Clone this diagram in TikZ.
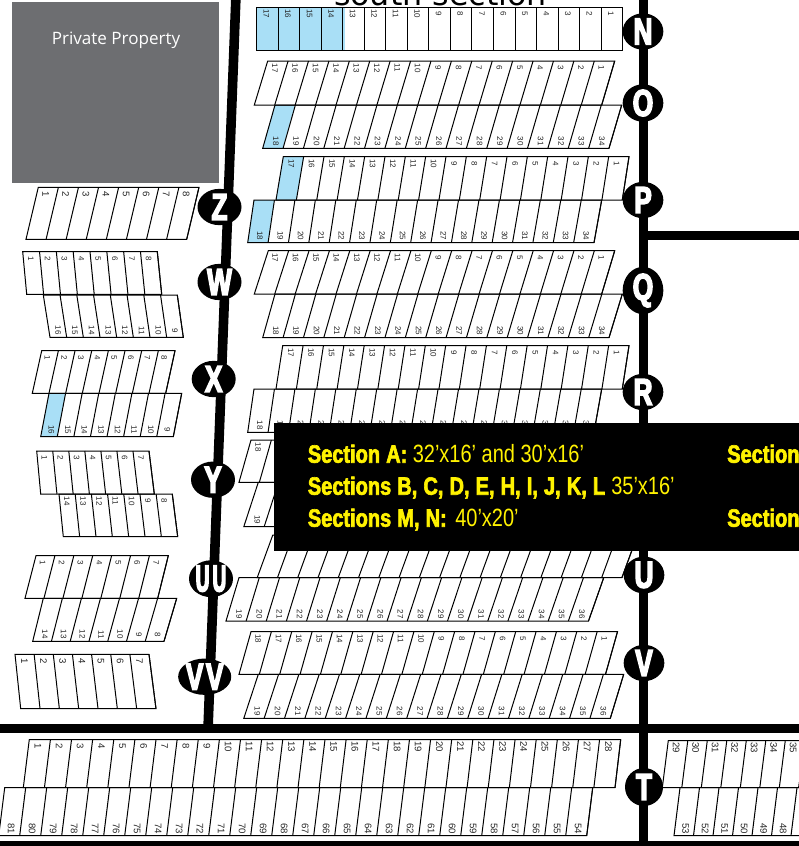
\documentclass[tikz,border=0pt]{standalone}
\usepackage{xcolor}
\usepackage{fontspec}
\usepackage{tikz}
\usetikzlibrary{shapes.geometric}
\setmainfont{Liberation Sans}
\newfontfamily\plotfont{Open Sans}
\newfontfamily\titlefont{DejaVu Sans}
\newfontfamily\headfont[FakeStretch=0.8,FakeBold=2.5,WordSpace=1.1]{Liberation Sans Bold}
\newfontfamily\sizefont[FakeStretch=0.8]{Liberation Sans}
\newfontfamily\markfont[FakeStretch=0.7,FakeBold=4]{Liberation Sans Bold}
\newfontfamily\slimfont[FakeStretch=0.5,FakeBold=4]{Liberation Sans Bold}
\definecolor{lotblue}{HTML}{A9DFF6}
\definecolor{plotgray}{HTML}{6D6E71}
\definecolor{signyellow}{HTML}{FFF200}

\tikzset{
  road/.style={draw=black, line width=7.2pt},
  lotline/.style={draw=black, line width=0.75pt},
  lotnum/.style={font=\fontsize{6}{6}\selectfont, inner sep=0pt, rotate=-90, text=black!85},
  bignum/.style={lotnum, font=\fontsize{7.2}{7}\selectfont},
  roadmark/.style={ellipse, fill=black, text=white, inner sep=0pt, minimum width=30.5pt, minimum height=25.5pt, font=\markfont\fontsize{28}{28}\selectfont},
  signhead/.style={anchor=base west, inner sep=0pt, text=signyellow, font=\headfont\fontsize{18.75}{20}\selectfont},
  signsize/.style={anchor=base west, inner sep=0pt, text=signyellow, font=\sizefont\fontsize{18.75}{20}\selectfont},
}

% a row of slanted lots: [label side]{top left}{top right}{bottom left}{bottom right}{y top}{y bottom}{first}{last}
\newcommand{\lotrow}[9][top]{%
  \pgfmathtruncatemacro{\lotn}{abs(#9-#8)+1}%
  \pgfmathtruncatemacro{\lotstep}{#9>#8 ? 1 : -1}%
  \draw[lotline] (#2,#6) -- (#3,#6) -- (#5,#7) -- (#4,#7) -- cycle;
  \foreach \k in {1,...,\lotn}{
    \pgfmathsetmacro{\ta}{#2+\k/\lotn*(#3-#2)}
    \pgfmathsetmacro{\ba}{#4+\k/\lotn*(#5-#4)}
    \draw[lotline] (\ta,#6) -- (\ba,#7);
    \pgfmathsetmacro{\tc}{#2+(\k-0.5)/\lotn*(#3-#2)}
    \pgfmathsetmacro{\bc}{#4+(\k-0.5)/\lotn*(#5-#4)}
    \pgfmathtruncatemacro{\num}{#8+(\k-1)*\lotstep}
    \lotlabel{#1}{#6}{#7}{\num}
  }%
}
\newcommand{\lotlabel}[4]{%
  \def\sidename{#1}\def\sidetop{top}%
  \ifx\sidename\sidetop
    \pgfmathsetmacro{\lx}{\tc+(\bc-\tc)*7/(#3-#2)-1}
    \pgfmathsetmacro{\ly}{#2+7}
  \else
    \pgfmathsetmacro{\lx}{\bc+(\tc-\bc)*7/(#3-#2)+1}
    \pgfmathsetmacro{\ly}{#3-7}
  \fi
  \node[\lotstyle] at (\lx,\ly) {#4};
}
\def\lotstyle{lotnum}

\begin{document}
\begin{tikzpicture}[x=0.75pt, y=-0.75pt]
  \useasboundingbox (0,0) rectangle (799,846);
  \clip (0,0) rectangle (799,846);

  % Roads
  \draw[road] (236,-5) -- (208,729);
  \draw[road] (643.5,-5) -- (643.5,850);
  \draw[road] (643.5,235.5) -- (805,235.5);
  \draw[road] (-5,728.5) -- (805,728.5);
  \draw[road] (-5,846) -- (805,846);

  % Private plot and title
  \fill[plotgray] (12,2) rectangle (219,183);
  \node[text=white, inner sep=0pt, font=\plotfont\fontsize{12.8}{14}\selectfont] (plot) at (116,40.5) {Private Property};
  \node[anchor=base, inner sep=0pt, font=\titlefont\fontsize{23.8}{24}\selectfont] (title) at (440.5,5.5) {south section};

  % Blue lots
  \fill[lotblue] (256.7,7) rectangle (344.7,50);
  \fill[lotblue] (274.6,105) -- (295.0,105) -- (282.7,148.3) -- (262.7,148.3) -- cycle;
  \fill[lotblue] (283.3,156.7) -- (303.7,156.7) -- (296.4,200) -- (276,200) -- cycle;
  \fill[lotblue] (254,200) -- (274.4,200) -- (267.7,242.7) -- (247.7,242.7) -- cycle;
  \fill[lotblue] (49,393.3) -- (65.6,393.3) -- (57.3,436.7) -- (40.7,436.7) -- cycle;

  % Lots right of the left road
  \lotrow{256.7}{622.7}{256.7}{622.7}{7}{50}{17}{1}
  \lotrow{267.7}{614.7}{254.3}{601.7}{61}{105}{17}{1}
  \lotrow[bottom]{275}{621.7}{262.7}{609}{105}{148.3}{18}{34}
  \lotrow{283.3}{629}{276}{622.3}{156.7}{200}{17}{1}
  \lotrow[bottom]{254}{601.7}{247.7}{594}{200}{242.7}{18}{34}
  \lotrow{268.3}{614.7}{254.3}{601.7}{250.7}{294}{17}{1}
  \lotrow[bottom]{275}{622.3}{262.7}{609}{294}{337.7}{18}{34}
  \lotrow{282.7}{629}{276}{622.3}{345.7}{389}{17}{1}
  \lotrow[bottom]{254}{601.7}{247.7}{594}{389}{432.3}{18}{34}
  \lotrow{251}{617.5}{239}{605.5}{440}{482.3}{18}{1}
  \lotrow[bottom]{258.3}{623.7}{243.8}{610.3}{482.3}{526.7}{19}{36}
  \lotrow{272.8}{637.5}{257.2}{621.9}{535}{577.7}{18}{1}
  \lotrow[bottom]{239}{603.7}{226}{588.5}{577.7}{621}{19}{36}
  \lotrow{251}{617.5}{239}{605.5}{631.7}{674.3}{18}{1}
  \lotrow[bottom]{258.3}{623.7}{243.8}{610.3}{674.3}{718.3}{19}{36}

  % Lots left of the left road
  \def\lotstyle{bignum}
  \lotrow{38.3}{199}{26}{186.7}{187.3}{239.3}{1}{8}
  \def\lotstyle{lotnum}
  \lotrow{22.7}{157.3}{26.7}{161.7}{251.7}{294.3}{1}{8}
  \lotrow[bottom]{43.3}{177.3}{50}{183.3}{295}{337.3}{16}{9}
  \lotrow{41.7}{175}{32.3}{165.7}{350.7}{393.3}{1}{8}
  \lotrow[bottom]{49}{181.7}{40.7}{173.3}{393.3}{436.7}{16}{9}
  \lotrow{36.7}{149}{40.7}{154.3}{451}{494}{1}{7}
  \lotrow{59}{172.3}{63.3}{177.7}{494}{536.7}{14}{8}
  \lotrow{36}{168.3}{25}{157.7}{555.7}{598.3}{1}{7}
  \lotrow[bottom]{43.3}{176.7}{32.7}{164}{598.3}{641.3}{14}{8}
  \def\lotstyle{bignum}
  \lotrow{15}{149}{20.7}{156}{654.3}{708.7}{1}{7}

  % Lots along the lower road
  \lotrow{29.3}{620.7}{23.3}{615}{739.5}{787.7}{1}{28}
  \lotrow[bottom]{4.7}{592.7}{-1.3}{586.7}{787.7}{835.7}{81}{54}
  \lotrow{668.3}{804.8}{662.3}{798.8}{740.5}{787.7}{29}{35}
  \lotrow[bottom]{680}{816.5}{674}{810.5}{787.7}{835.7}{53}{47}
  \def\lotstyle{lotnum}

  % Road markers
  \node[roadmark] (markN) at (643,31.5) {N};
  \node[roadmark] (markO) at (643,103) {O};
  \node[roadmark] (markP) at (643,200) {P};
  \node[roadmark] (markQ) at (643,290.5) {Q};
  \node[roadmark] (markR) at (643,392) {R};
  \node[roadmark] (markU) at (644,575) {U};
  \node[roadmark] (markV) at (644,663) {V};
  \node[roadmark, minimum width=28.5pt, minimum height=28.5pt] (markT) at (644,787) {T};
  \node[roadmark, minimum width=33pt] (markZ) at (219.5,207) {Z};
  \node[roadmark, minimum width=33pt] (markW) at (219.5,282) {W};
  \node[roadmark, minimum width=33pt] (markX) at (213.7,379) {X};
  \node[roadmark, minimum width=33pt] (markY) at (213,479.7) {Y};
  \node[roadmark, minimum width=33pt, font=\slimfont\fontsize{28}{28}\selectfont] (markUU) at (211,578.7) {U\kern2.5pt U};
  \node[roadmark, minimum width=35pt] (markVV) at (204.7,676.7) {V\kern2pt V};

  % Price sign
  \fill[black] (274,423) rectangle (805,551);
  \node[signhead] (headA) at (307.6,462.7) {Section A:};
  \node[signsize] (sizeA) at (412.5,462.7) {32’x16’ and 30’x16’};
  \node[signhead] (headB) at (307.6,494.7) {Sections B, C, D, E, H, I, J, K, L};
  \node[signsize] (sizeB) at (611,494.7) {35’x16’};
  \node[signhead] (headM) at (307.6,526.7) {Sections M, N:};
  \node[signsize] (sizeM) at (455,526.7) {40’x20’};
  \node[signhead] (headC) at (727,462.7) {Section};
  \node[signhead] (headD) at (727,526.7) {Section};
\end{tikzpicture}
\end{document}
